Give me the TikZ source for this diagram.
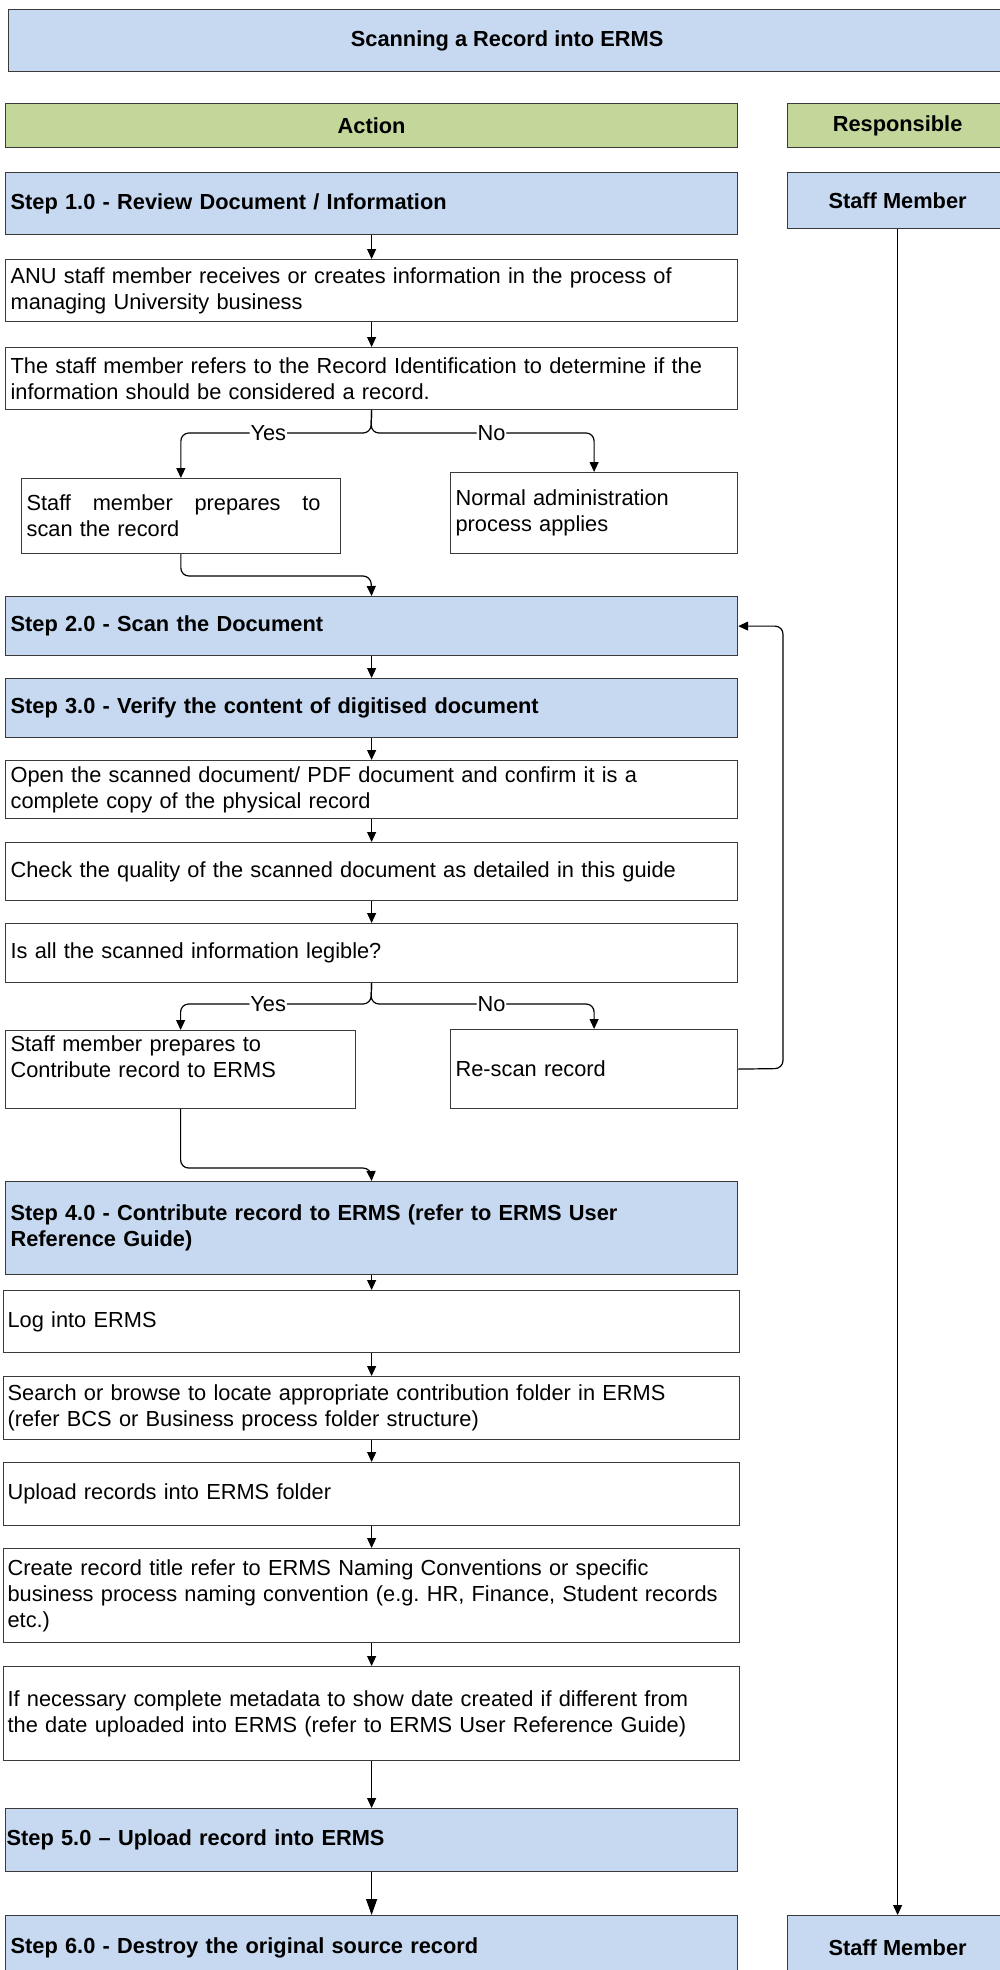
\documentclass[tikz,border=0pt]{standalone}
\usepackage{fontspec}
\setmainfont{Liberation Sans}
\usetikzlibrary{arrows.meta}
\definecolor{stepblue}{HTML}{C6D9F1}
\definecolor{headgreen}{HTML}{C4D79B}
\definecolor{boxline}{HTML}{3A3A3A}
\newcommand{\flowfont}{\fontsize{21.8}{26}\selectfont}
\hyphenpenalty=10000
\exhyphenpenalty=10000
\frenchspacing

\begin{document}
\begin{tikzpicture}[x=1pt,y=-1pt,font=\flowfont,
    boxbase/.style={draw=boxline, line width=1.2pt, rectangle, anchor=north west, inner xsep=5pt, inner ysep=0pt},
    stepbox/.style={boxbase, fill=stepblue, font=\flowfont\bfseries, text width=722pt, align=left},
    textbox/.style={boxbase, fill=white, align=left},
    headbox/.style={boxbase, fill=headgreen, font=\flowfont\bfseries, align=center},
    rolebox/.style={boxbase, fill=stepblue, font=\flowfont\bfseries, align=center},
    arrow/.style={draw, line width=1.2pt, -{Triangle[length=10pt,width=9pt]}},
    elbow/.style={arrow, rounded corners=8pt},
    lbl/.style={fill=white, inner xsep=1pt, inner ysep=0pt}]
    \useasboundingbox (0,0) rectangle (999,1970);

    % headings
    \node[rolebox, minimum width=997pt, minimum height=62pt] (heading) at (8,9) {Scanning a Record into ERMS};
    \node[headbox, minimum width=732pt, minimum height=44pt] (action) at (5,103) {Action};
    \node[headbox, minimum width=220pt, minimum height=44pt] (resp) at (787,103) {Responsible};

    % step 1
    \node[stepbox, minimum height=62pt] (step1) at (5,172) {Step 1.0 - Review Document / Information};
    \node[rolebox, minimum width=220pt, minimum height=56pt] (staff1) at (787,172) {Staff Member};
    \node[textbox, text width=722pt, minimum height=62pt] (receive) at (5,259)
      {ANU staff member receives or creates information in the process of\\managing University business};
    \node[textbox, text width=722pt, minimum height=62pt] (identify) at (5,347)
      {The staff member refers to the Record Identification to determine if the\\information should be considered a record.};
    \node[textbox, text width=308.5pt, minimum height=75pt] (prepscan) at (21,478)
      {\makebox[294pt]{Staff\hfill member\hfill prepares\hfill to}\\scan the record};
    \node[textbox, text width=277pt, minimum height=81pt] (normal) at (450,472) {Normal administration\\process applies};

    % steps 2 and 3
    \node[stepbox, minimum height=59pt] (step2) at (5,596) {Step 2.0 - Scan the Document};
    \node[stepbox, minimum height=59pt] (step3) at (5,678) {Step 3.0 - Verify the content of digitised document};
    \node[textbox, text width=722pt, minimum height=58pt] (open) at (5,760)
      {Open the scanned document/ PDF document and confirm it is a\\complete copy of the physical record};
    \node[textbox, text width=722pt, minimum height=58pt] (quality) at (5,842)
      {Check the quality of the scanned document as detailed in this guide};
    \node[textbox, text width=722pt, minimum height=59pt] (legible) at (5,923) {Is all the scanned information legible?};
    \node[textbox, text width=340pt, minimum height=78pt] (prepcontrib) at (5,1030)
      {Staff member prepares to\\Contribute record to ERMS\\\mbox{}};
    \node[textbox, text width=277pt, minimum height=79pt] (rescan) at (450,1029) {Re-scan record};

    % step 4
    \node[stepbox, minimum height=93pt] (step4) at (5,1181)
      {Step 4.0 - Contribute record to ERMS (refer to ERMS User\\Reference Guide)};
    \node[textbox, text width=728pt, inner xsep=4pt, minimum height=62pt] (login) at (3,1290) {Log into ERMS};
    \node[textbox, text width=728pt, inner xsep=4pt, minimum height=63pt] (search) at (3,1376)
      {Search or browse to locate appropriate contribution folder in ERMS\\(refer BCS or Business process folder structure)};
    \node[textbox, text width=728pt, inner xsep=4pt, minimum height=63pt] (upload) at (3,1462) {Upload records into ERMS folder};
    \node[textbox, text width=728pt, inner xsep=4pt, minimum height=94pt] (naming) at (3,1548)
      {Create record title refer to ERMS Naming Conventions or specific\\business process naming convention (e.g. HR, Finance, Student records\\etc.)};
    \node[textbox, text width=728pt, inner xsep=4pt, minimum height=94pt] (metadata) at (3,1666)
      {If necessary complete metadata to show date created if different from\\the date uploaded into ERMS (refer to ERMS User Reference Guide)};

    % steps 5 and 6
    \node[stepbox, minimum height=63pt, inner xsep=1pt, text width=730pt] (step5) at (5,1808) {Step 5.0 -- Upload record into ERMS};
    \node[stepbox, minimum height=64pt] (step6) at (5,1915) {Step 6.0 - Destroy the original source record};
    \node[rolebox, minimum width=220pt, minimum height=64pt] (staff2) at (787,1915) {Staff Member};

    % straight arrows
    \foreach \a/\b in {step1/receive,receive/identify,step2/step3,step3/open,open/quality,quality/legible,
                       step4/login,login/search,search/upload,upload/naming,naming/metadata,metadata/step5}
    {
      \draw[arrow] (\a.south) -- (\b.north);
    }
    \draw[arrow, -{Triangle[length=16pt,width=11pt]}] (step5.south) -- (step6.north);
    \draw[arrow] (staff1.south) -- (staff2.north);

    % decisions
    \coordinate (fork1) at (371,433);
    \coordinate (join1) at (371,576);
    \draw[elbow] (identify.south) -- (fork1) -| node[lbl, pos=0.27] {Yes} (prepscan.north);
    \draw[elbow] (identify.south) -- (fork1) -| node[lbl, pos=0.27] {No} (normal.north);
    \draw[elbow] (prepscan.south) |- (join1) -- (step2.north);

    \coordinate (fork2) at (371,1004);
    \coordinate (join2) at (371,1168);
    \coordinate (loop) at (783,1068.5);
    \draw[elbow] (legible.south) -- (fork2) -| node[lbl, pos=0.27] {Yes} (prepcontrib.north);
    \draw[elbow] (legible.south) -- (fork2) -| node[lbl, pos=0.27] {No} (rescan.north);
    \draw[elbow] (prepcontrib.south) |- (join2) -- (step4.north);
    \draw[elbow] (rescan.east) -- (loop) |- (step2.east);
\end{tikzpicture}
\end{document}
